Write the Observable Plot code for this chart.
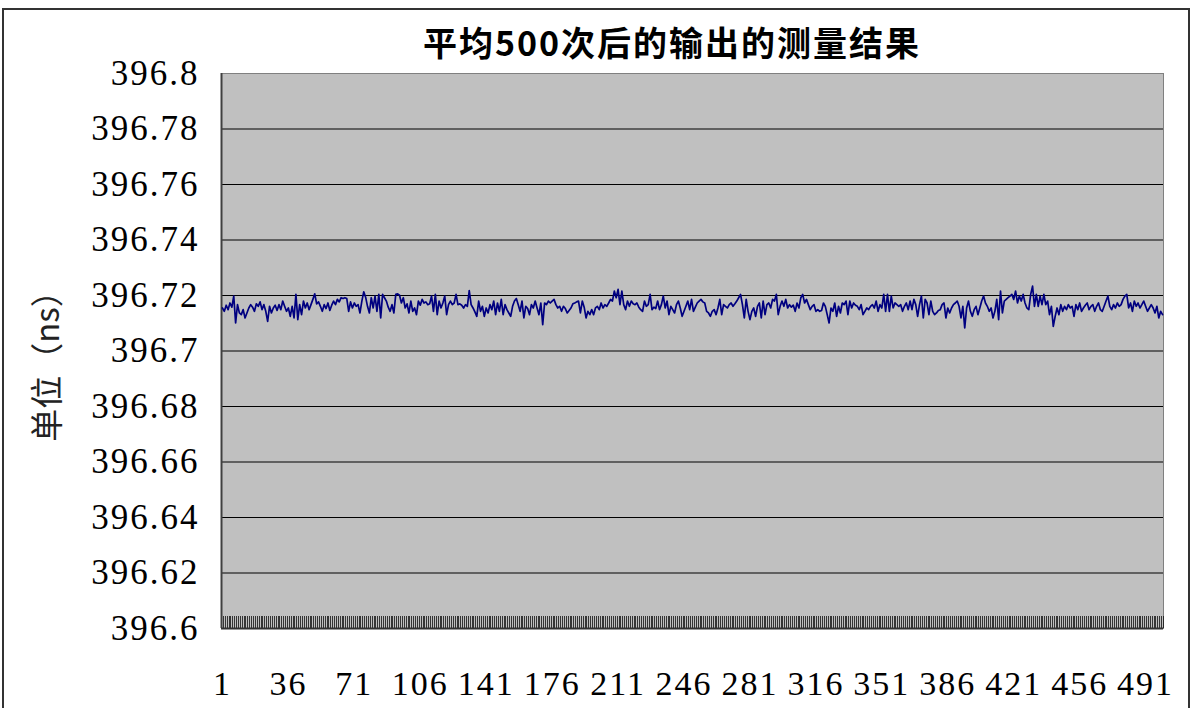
<!DOCTYPE html>
<html><head><meta charset="utf-8">
<script src="https://cdn.jsdelivr.net/npm/d3@7"></script>
<script src="https://cdn.jsdelivr.net/npm/@observablehq/plot@0.6"></script>
<style>
body{margin:0;background:#fff;}
#wrap{position:relative;width:1196px;height:708px;overflow:hidden;background:#fff;}
#border{position:absolute;left:2px;top:8px;width:1188px;height:740px;border:2px solid #333;box-sizing:border-box;}
#title{position:absolute;left:272px;width:800px;top:25px;text-align:center;font-family:"Noto Sans CJK SC";font-weight:bold;font-size:34px;line-height:34px;letter-spacing:2px;color:#000;}
#ylab{position:absolute;left:-55px;top:338px;width:200px;height:40px;line-height:40px;text-align:center;transform:rotate(-90deg);font-family:"Noto Sans CJK SC";font-size:33px;color:#222;}
#chart{position:absolute;left:0;top:0;}
#chart svg text{letter-spacing:2px;font-family:"Liberation Serif",serif !important;}
</style>
</head><body>
<div id="wrap">
<div id="chart"></div>
<div id="border"></div>
<div id="title">平均500次后的输出的测量结果</div>
<div id="ylab">单位（ns）</div>
</div>
<script>
const titleText = "平均500次后的输出的测量结果";
const yLabel = "单位（ns）";
const yTicks = [396.6, 396.62, 396.64, 396.66, 396.68, 396.7, 396.72, 396.74, 396.76, 396.78, 396.8];
const xTickLabels = [1, 36, 71, 106, 141, 176, 211, 246, 281, 316, 351, 386, 421, 456, 491];

const run1 = [396.7155,396.7143,396.7165,396.7149,396.7173,396.7158,396.7198,396.7101,396.7167,396.7137,
396.7131,396.7149,396.7119,396.7137,396.7155,396.7167,396.7158,396.7143,396.7170,396.7161,
396.7177,396.7149,396.7167,396.7143,396.7107,396.7161,396.7137,396.7155,396.7165,396.7146,
396.7167,396.7149,396.7180,396.7161,396.7143,396.7155,396.7125,396.7161,396.7119,396.7204,
396.7113,396.7167,396.7131,396.7180,396.7155,396.7173,396.7149,396.7167,396.7186,396.7206,
396.7170,396.7177,396.7161,396.7143,396.7167,396.7153,396.7173,396.7146,396.7165,396.7180,
396.7167,396.7186,396.7177,396.7192,396.7189,396.7192,396.7189,396.7143,396.7177,396.7155,
396.7173,396.7161];
const run2 = [396.7167,396.7137,396.7180,396.7213,396.7194,396.7161,396.7137,396.7192,396.7155,396.7198,
396.7143,396.7204,396.7119,396.7204,396.7192,396.7180,396.7158,396.7143,396.7167,396.7137,
396.7204,396.7206,396.7201,396.7173,396.7192,396.7155,396.7170,396.7137,396.7180,396.7143,
396.7155,396.7131,396.7180,396.7165,396.7186,396.7173,396.7177,396.7167,396.7170,396.7198,
396.7143,396.7204,396.7131,396.7180,396.7155,396.7173,396.7198,396.7131,396.7167,396.7180,
396.7167,396.7173,396.7204,396.7167,396.7170,396.7165,396.7155,396.7167,396.7161,396.7218,
396.7167,396.7155,396.7141,396.7125,396.7180,396.7143,396.7161,396.7125,396.7155,396.7137,
396.7167,396.7149];
const run3 = [396.7180,396.7131,396.7173,396.7143,396.7186,396.7131,396.7167,396.7149,396.7137,396.7125,
396.7161,396.7180,396.7189,396.7167,396.7143,396.7180,396.7119,396.7161,396.7153,396.7131,
396.7167,396.7155,396.7180,396.7155,396.7131,396.7173,396.7095,396.7173,396.7167,396.7180,
396.7173,396.7180,396.7186,396.7167,396.7155,396.7161,396.7143,396.7161,396.7153,396.7137,
396.7146,396.7155,396.7170,396.7173,396.7177,396.7180,396.7137,396.7180,396.7158,396.7119,
396.7143,396.7131,396.7149,396.7131,396.7155,396.7161,396.7149,396.7173,396.7155,396.7167,
396.7161,396.7173,396.7186,396.7180,396.7216,396.7192,396.7222,396.7167,396.7216,396.7167,
396.7149,396.7180];
const run4 = [396.7161,396.7180,396.7170,396.7167,396.7173,396.7158,396.7149,396.7143,396.7180,396.7161,
396.7167,396.7204,396.7149,396.7158,396.7153,396.7180,396.7149,396.7167,396.7198,396.7155,
396.7180,396.7131,396.7161,396.7149,396.7137,396.7167,396.7180,396.7155,396.7125,396.7143,
396.7161,396.7180,396.7149,396.7186,396.7143,396.7158,396.7173,396.7180,396.7186,396.7177,
396.7173,396.7143,396.7137,396.7125,396.7143,396.7149,396.7131,396.7155,396.7186,396.7131,
396.7167,396.7161,396.7155,396.7167,396.7173,396.7161,396.7170,396.7180,396.7192,396.7204,
396.7167,396.7119,396.7186,396.7143,396.7113,396.7143,396.7155,396.7125,396.7161,396.7173,
396.7119,396.7180];
const run5 = [396.7131,396.7167,396.7173,396.7155,396.7186,396.7180,396.7204,396.7131,396.7161,396.7180,
396.7161,396.7186,396.7155,396.7167,396.7158,396.7165,396.7143,396.7173,396.7155,396.7192,
396.7204,396.7173,396.7186,396.7167,396.7149,396.7161,396.7167,396.7143,396.7149,396.7143,
396.7146,396.7173,396.7161,396.7131,396.7101,396.7155,396.7143,396.7173,396.7125,396.7161,
396.7137,396.7173,396.7167,396.7180,396.7131,396.7180,396.7155,396.7173,396.7165,396.7161,
396.7149,396.7167,396.7131,396.7143,396.7155,396.7149,396.7161,396.7167,396.7155,396.7180,
396.7143,396.7167,396.7155,396.7204,396.7143,396.7204,396.7143,396.7198,396.7155,396.7173,
396.7167,396.7161];
const run6 = [396.7167,396.7143,396.7161,396.7173,396.7149,396.7180,396.7149,396.7186,396.7167,396.7125,
396.7167,396.7198,396.7119,396.7186,396.7173,396.7131,396.7180,396.7143,396.7131,396.7137,
396.7146,396.7149,396.7167,396.7173,396.7119,396.7155,396.7137,396.7155,396.7167,396.7173,
396.7180,396.7161,396.7119,396.7161,396.7083,396.7155,396.7180,396.7143,396.7125,396.7149,
396.7161,396.7131,396.7155,396.7180,396.7198,396.7173,396.7161,396.7143,396.7155,396.7119,
396.7143,396.7186,396.7113,396.7216,396.7137,396.7180,396.7186,396.7192,396.7198,396.7204,
396.7186,396.7216,396.7173,396.7198,396.7180,396.7204,396.7173,396.7155,396.7149,396.7204];
const run7 = [396.7234,396.7161,396.7204,396.7161,396.7198,396.7167,396.7204,396.7167,396.7180,396.7131,
396.7161,396.7089,396.7125,396.7155,396.7131,396.7167,396.7143,396.7161,396.7149,396.7167,
396.7155,396.7161,396.7125,396.7167,396.7149,396.7173,396.7143,396.7155,396.7165,396.7173,
396.7149,396.7161,396.7167,396.7143,396.7161,396.7173,396.7149,396.7143,396.7161,396.7180,
396.7198,396.7161,396.7149,396.7167,396.7155,396.7173,396.7161,396.7167,396.7186,396.7198,
396.7204,396.7155,396.7173,396.7143,396.7180,396.7161,396.7173,396.7155,396.7167,396.7180,
396.7161,396.7143,396.7155,396.7167,396.7155,396.7137,396.7161,396.7119,396.7143,396.7131];

const values = [].concat(run1, run2, run3, run4, run5, run6, run7);
const data = values.map((v, k) => ({n: k + 1, v}));
const N = values.length;
const catEdges = d3.range(0, N + 1).map(k => k + 0.5);

document.getElementById("title").textContent = titleText;
document.getElementById("ylab").textContent = yLabel;

const serif = "Liberation Serif";
const chart = Plot.plot({
  width: 1196,
  height: 708,
  marginLeft: 221,
  marginRight: 33,
  marginTop: 73,
  marginBottom: 80,
  x: {domain: [0.5, N + 0.5]},
  y: {domain: [396.6, 396.8]},
  style: {background: "transparent", fontFamily: serif, fontSize: "34px", color: "#000"},
  marks: [
    Plot.frame({fill: "#c0c0c0", stroke: "#808080"}),
    Plot.ruleY(yTicks.slice(1, -1), {stroke: "#000", strokeWidth: 1}),
    Plot.tickX(catEdges, {x: d => d, stroke: "#111", strokeWidth: 0.8, insetTop: 543, shapeRendering: "crispEdges"}),
    Plot.ruleX([0.5], {stroke: "#404040", strokeWidth: 2}),
    Plot.ruleY([396.6], {stroke: "#333", strokeWidth: 2}),
    Plot.line(data, {x: "n", y: "v", stroke: "#000080", strokeWidth: 1.7}),
    Plot.axisY({ticks: yTicks, tickSize: 0, tickPadding: 22, tickFormat: d => String(d), label: null, fontSize: 35, fontFamily: serif}),
    Plot.axisX({ticks: xTickLabels, tickSize: 0, tickPadding: 42, tickFormat: d => String(d), label: null, fontSize: 34, fontFamily: serif})
  ]
});
document.getElementById("chart").appendChild(chart);
</script>
</body></html>
